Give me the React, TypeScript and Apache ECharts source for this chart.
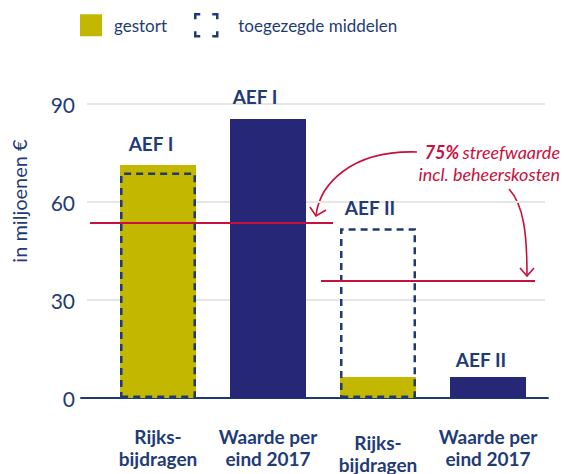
import React, { useEffect, useRef } from "react";
import * as echarts from "echarts";

const categories = ["Rijks-\nbijdragen", "Waarde per\neind 2017", "Rijks-\nbijdragen", "Waarde per\neind 2017"];
const gestort = [71.3, null, 6.4, null];
const waarde = [null, 85.4, null, 6.4];
const toegezegd = [69, null, 52, null];
const barLabels = ["AEF I", "AEF I", "AEF II", "AEF II"];
const streefwaarde = [53.5, 35.8];
const yTicks = [0, 30, 60, 90];

const NAVY = "#262777";
const TEXT = "#1f3b78";
const DASH = "#1f3a72";
const YELLOW = "#c3b700";
const RED = "#c8103e";
const FONT = "Lato";

export default function App() {
  const ref = useRef<HTMLDivElement>(null);
  useEffect(() => {
    if (!ref.current) return;
    const chart = echarts.init(ref.current, undefined, { renderer: "svg" });
    const labelCfg = (i: number, show: boolean, dist: number, dx: number) => ({
      show,
      position: "top",
      distance: dist,
      offset: [dx, 0],
      formatter: () => barLabels[i],
      color: TEXT,
      fontFamily: FONT,
      fontWeight: "bold",
      fontSize: 19,
    });
    const toItems = (arr: (number | null)[], showIdx: number[], dists: number[], dxs: number[]) =>
      arr.map((v, i) => ({
        value: v == null ? "-" : v,
        label: labelCfg(i, showIdx.includes(i), dists[i], dxs[i]),
      }));
    const dists = [12, 13, 11, 8];
    const dxs = [-7, -13, -8, -7];
    const yMin = yTicks[0];
    const yMax = yTicks[yTicks.length - 1];
    const interval = yTicks[1] - yTicks[0];
    const gridBase = { top: 104, bottom: 76, outerBoundsMode: "none", containLabel: false };

    chart.setOption({
      animation: false,
      textStyle: { fontFamily: FONT },
      legend: {
        left: 80,
        top: 13,
        padding: 0,
        itemWidth: 22,
        itemHeight: 22,
        itemGap: 27,
        icon: "rect",
        selectedMode: false,
        textStyle: { fontSize: 17, color: TEXT, fontFamily: FONT },
        data: [
          { name: "gestort", textStyle: { padding: [0, 0, 0, 7] } },
          {
            name: "toegezegde middelen",
            itemStyle: {
              color: "transparent",
              borderColor: DASH,
              borderWidth: 2.5,
              borderType: [5, 12, 10, 12, 10, 12, 10, 12, 5],
            },
            textStyle: { padding: [0, 0, 0, 16] },
          },
        ],
      },
      grid: [
        { ...gridBase, left: 87, right: 19 },
        { ...gridBase, left: 103, right: 21 },
        { ...gridBase, left: 81, right: 16 },
      ],
      xAxis: [
        { type: "category", gridIndex: 0, data: categories, show: false },
        {
          type: "category",
          gridIndex: 1,
          data: categories.map((c, i) =>
            i === 2 ? { value: c, textStyle: { padding: [6, 0, 0, 0] } } : c
          ),
          axisLine: { show: false },
          axisTick: { show: false },
          axisLabel: {
            interval: 0,
            hideOverlap: false,
            margin: 27,
            color: TEXT,
            fontFamily: FONT,
            fontWeight: "bold",
            fontSize: 19,
            lineHeight: 22,
          },
        },
        {
          type: "category",
          gridIndex: 2,
          data: categories,
          axisLine: { show: true, lineStyle: { color: DASH, width: 2 } },
          axisTick: { show: false },
          axisLabel: { show: false },
        },
      ],
      yAxis: [
        {
          type: "value",
          gridIndex: 0,
          min: yMin,
          max: yMax,
          interval,
          axisLine: { show: false },
          axisTick: { show: false },
          axisLabel: { margin: 12, color: TEXT, fontFamily: FONT, fontSize: 21 },
          splitLine: { lineStyle: { color: "#e6e6e6", width: 2 } },
        },
        { type: "value", gridIndex: 1, min: yMin, max: yMax, interval, show: false },
        { type: "value", gridIndex: 2, min: yMin, max: yMax, interval, show: false },
      ],
      series: [
        {
          name: "gestort",
          type: "bar",
          xAxisIndex: 1,
          yAxisIndex: 1,
          barWidth: 76,
          barGap: "-100%",
          itemStyle: { color: YELLOW },
          data: toItems(gestort, [0], dists, dxs),
          markLine: {
            silent: true,
            symbol: "none",
            label: { show: false },
            lineStyle: { color: RED, width: 2, type: "solid" },
            data: [
              [
                { x: 90, yAxis: streefwaarde[0] },
                { x: 333, yAxis: streefwaarde[0] },
              ],
              [
                { x: 321, yAxis: streefwaarde[1] },
                { x: 535, yAxis: streefwaarde[1] },
              ],
            ],
          },
        },
        {
          name: "waarde",
          type: "bar",
          xAxisIndex: 1,
          yAxisIndex: 1,
          barWidth: 76,
          barGap: "-100%",
          itemStyle: { color: NAVY },
          data: toItems(waarde, [1, 3], dists, dxs),
        },
        {
          name: "toegezegde middelen",
          type: "bar",
          xAxisIndex: 1,
          yAxisIndex: 1,
          barWidth: 76,
          barGap: "-100%",
          z: 3,
          itemStyle: {
            color: "transparent",
            borderColor: DASH,
            borderWidth: 2.5,
            borderType: [7, 5],
          },
          data: toItems(toegezegd, [2], dists, dxs),
        },
      ],
      graphic: [
        {
          type: "text",
          x: 19,
          y: 201,
          rotation: Math.PI / 2,
          style: {
            text: "in miljoenen €",
            font: `20px ${FONT}`,
            fill: TEXT,
            align: "center",
            verticalAlign: "middle",
          },
        },
        {
          type: "text",
          x: 560,
          y: 141,
          style: {
            text: "{b|75%} {i|streefwaarde}\n{i|incl. beheerskosten}",
            align: "right",
            verticalAlign: "top",
            rich: {
              b: { font: `italic bold 18px ${FONT}`, fill: RED, lineHeight: 22 },
              i: { font: `italic 18px ${FONT}`, fill: RED, lineHeight: 22 },
            },
          } as any,
        },
        {
          type: "bezierCurve",
          shape: { x1: 417, y1: 152, cpx1: 350, cpy1: 150, cpx2: 320, cpy2: 185, x2: 316, y2: 215 },
          style: { stroke: RED, lineWidth: 1.6, fill: "none" },
        },
        {
          type: "polyline",
          shape: { points: [[310, 207], [316, 216], [326, 210]] },
          style: { stroke: RED, lineWidth: 1.6, fill: "none" },
        },
        {
          type: "bezierCurve",
          shape: { x1: 509, y1: 189, cpx1: 524, cpy1: 205, cpx2: 527, cpy2: 235, x2: 527, y2: 275 },
          style: { stroke: RED, lineWidth: 1.6, fill: "none" },
        },
        {
          type: "polyline",
          shape: { points: [[520, 268], [527, 276], [534, 268]] },
          style: { stroke: RED, lineWidth: 1.6, fill: "none" },
        },
      ],
    });
    return () => chart.dispose();
  }, []);
  return <div ref={ref} style={{ width: 564, height: 474, position: "absolute", left: 0, top: 0 }} />;
}
